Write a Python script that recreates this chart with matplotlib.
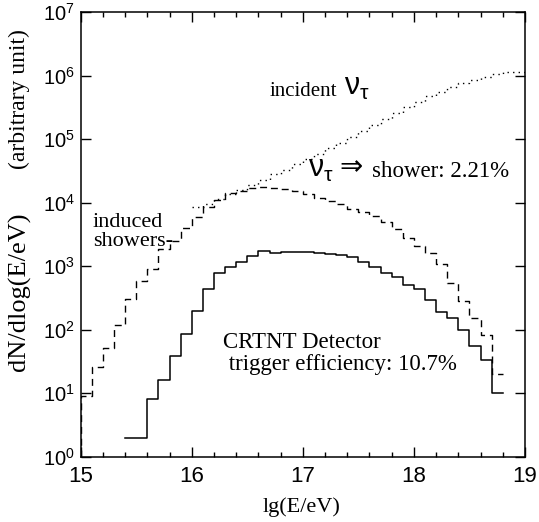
import numpy as np
import matplotlib.pyplot as plt
from matplotlib.ticker import MultipleLocator, LogLocator, NullLocator

plt.rcParams['font.family'] = 'Liberation Serif'
plt.rcParams['mathtext.fontset'] = 'custom'
plt.rcParams['mathtext.rm'] = 'Liberation Sans'
plt.rcParams['mathtext.it'] = 'Liberation Sans'

bin_width = 0.1

# induced showers (dashed), bins start at 15.0
shower_start = 15.0
shower = [9, 26, 51, 120, 300, 580, 910, 1850, 2500, 4000,
          6000, 8500, 11000, 14000, 15500, 16700, 17400, 17000, 16300, 15000,
          13600, 12000, 10500, 9500, 8000, 7200, 6200, 5000, 3900, 2800,
          2100, 1600, 1070, 550, 280, 155, 81, 20]

# triggered by CRTNT detector (solid), bins start at 15.4
trigger_start = 15.4
trigger = [2, 2, 8, 16, 38, 85, 195, 430, 780, 980,
           1170, 1420, 1760, 1620, 1680, 1680, 1660, 1620, 1560, 1480,
           1410, 1160, 970, 790, 670, 500, 430, 290, 190, 150,
           100, 56, 33, 10]

# incident nu_tau (dotted), bins start at 16.0
incident_start = 16.0
incident = [8500, 9500, 11500, 13500, 16000, 19000, 23000, 28000, 33000, 40000,
            48000, 58000, 72000, 88000, 108000, 135000, 165000, 205000, 255000, 320000,
            390000, 470000, 560000, 660000, 760000, 860000, 960000, 1060000, 1150000, 1130000]


def draw_hist(ax, start, vals, floor=None, **kwargs):
    vals = np.asarray(vals, dtype=float)
    x = start + bin_width * np.arange(len(vals) + 1)
    y = np.r_[vals, vals[-1]]
    if floor is not None:
        x = np.r_[x[0], x]
        y = np.r_[floor, y]
    ax.step(x, y, where='post', c='k', **kwargs)


fig = plt.figure(figsize=(5.39, 5.22), dpi=100)
ax = fig.add_axes([0.1497, 0.125, 0.8243, 0.852])

draw_hist(ax, incident_start, incident, lw=1.0, ls=(0, (1, 3)))
draw_hist(ax, shower_start, shower, floor=1, lw=1.0, ls=(0, (5, 3.5)))
draw_hist(ax, trigger_start, trigger, lw=1.1)

ax.set_yscale('log')
ax.set_xlim(15, 19)
ax.set_ylim(1, 1e7)
ax.xaxis.set_major_locator(MultipleLocator(1))
ax.xaxis.set_minor_locator(MultipleLocator(0.2))
ax.yaxis.set_major_locator(LogLocator(base=10, numticks=10))
ax.yaxis.set_minor_locator(NullLocator())
ax.tick_params(which='both', direction='in', top=True, right=True, width=1)
ax.tick_params(which='major', length=7)
ax.tick_params(which='minor', length=3.5)
ax.tick_params(axis='x', labelsize=16, pad=7, labelfontfamily='Liberation Sans')
ax.tick_params(axis='y', labelsize=14.5, pad=4, labelfontfamily='Liberation Sans')
for s in ax.spines.values():
    s.set_linewidth(1.1)

fig.text(0.560, 0.019, 'lg(E/eV)', ha='center', va='baseline', fontsize=16)
fig.text(0.036, 1 - 99.5 / 522, '(arbitrary unit)', rotation=90,
         ha='center', va='center', fontsize=17)
fig.text(0.036, 1 - 292 / 522, 'dN/dlog(E/eV)', rotation=90,
         ha='center', va='center', fontsize=19)

nu_tau = r'$\mathrm{\nu}_{\mathrm{\tau}}$'
ax.text(16.70, 10**5.68, 'incident', fontsize=15, va='baseline')
ax.text(17.37, 10**5.69, nu_tau, fontsize=22, va='baseline')
ax.text(17.05, 10**4.40, nu_tau, fontsize=22, va='baseline')
ax.text(17.33, 10**4.44, '\u21d2', fontsize=20, va='baseline', family='DejaVu Sans')
ax.text(17.62, 10**4.40, 'shower: 2.21%', fontsize=16.5, va='baseline')
ax.text(15.11, 10**3.62, 'induced', fontsize=16, va='baseline')
ax.text(15.11, 10**3.32, 'showers-', fontsize=16, va='baseline')
ax.text(16.28, 10**1.71, 'CRTNT Detector', fontsize=16.5, va='baseline')
ax.text(16.28, 10**1.37, ' trigger efficiency: 10.7%', fontsize=16.5, va='baseline')

fig.savefig('out.png', dpi=100)
